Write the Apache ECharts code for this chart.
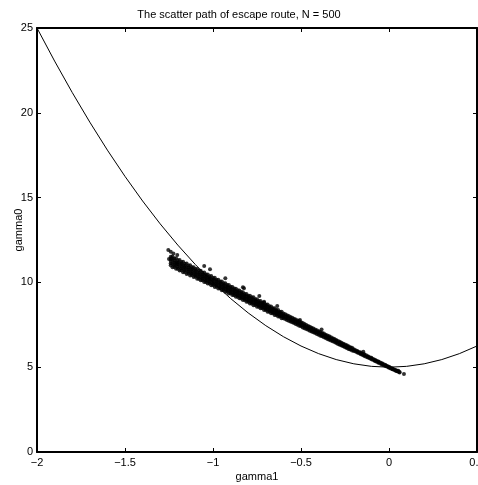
<!DOCTYPE html>
<html>
<head>
<meta charset="utf-8">
<script src="https://cdn.jsdelivr.net/npm/echarts@6/dist/echarts.min.js"></script>
<style>
html,body{margin:0;padding:0;background:#fff;}
#chart{width:478px;height:485px;}
</style>
</head>
<body>
<div id="chart"></div>
<script>
var titleText = 'The scatter path of escape route, N = 500';
var xName = 'gamma1';
var yName = 'gamma0';
var xTicks = [-2, -1.5, -1, -0.5, 0, 0.5];
var yTicks = [0, 5, 10, 15, 20, 25];

// reference curve
var curveGamma1 = [-2.0,-1.9,-1.8,-1.7,-1.6,-1.5,-1.4,-1.3,-1.2,-1.1,-1.0,-0.9,-0.8,-0.7,-0.6,-0.5,-0.4,-0.3,-0.2,-0.1,0.0,0.1,0.2,0.3,0.4,0.5];
var curveGamma0 = [25.0,23.05,21.2,19.45,17.8,16.25,14.8,13.45,12.2,11.05,10.0,9.05,8.2,7.45,6.8,6.25,5.8,5.45,5.2,5.05,5.0,5.05,5.2,5.45,5.8,6.25];

// dense band of scatter points: gamma1 positions and the gamma0 values seen at each
var bandGamma1 = [-1.24,-1.22,-1.20,-1.18,-1.16,-1.14,-1.12,-1.10,-1.08,-1.06,-1.04,-1.02,-1.00,-0.98,-0.96,-0.94,-0.92,-0.90,-0.88,-0.86,-0.84,-0.82,-0.80,-0.78,-0.76,-0.74,-0.72,-0.70,-0.68,-0.66,-0.64,-0.62,
  -0.60,-0.58,-0.56,-0.54,-0.52,-0.50,-0.48,-0.46,-0.44,-0.42,-0.40,-0.38,-0.36,-0.34,-0.32,-0.30,-0.28,-0.26,-0.24,-0.22,
  -0.20,-0.18,-0.16,-0.14,-0.12,-0.10,-0.08,-0.06,-0.04,-0.02,0.00,0.02,0.04,0.06];
var bandGamma0 = [
  [11.51,11.38,11.26,11.13,11.01],[11.41,11.28,11.16,11.03,10.91],[11.31,11.18,11.06,10.93,10.81],[11.21,11.08,10.96,10.83,10.71],
  [11.10,10.97,10.86,10.73,10.62],[11.00,10.87,10.76,10.63,10.52],[10.89,10.77,10.66,10.54,10.43],[10.79,10.67,10.56,10.44,10.33],
  [10.68,10.56,10.45,10.33,10.22],[10.57,10.45,10.35,10.23,10.13],[10.47,10.35,10.25,10.13,10.03],[10.36,10.25,10.15,10.04,9.94],
  [10.26,10.15,10.05,9.94,9.84],[10.16,10.05,9.95,9.84,9.74],[10.05,9.95,9.85,9.74,9.65],[9.95,9.85,9.75,9.64,9.55],
  [9.85,9.74,9.65,9.55,9.45],[9.75,9.64,9.55,9.45,9.35],[9.64,9.53,9.44,9.34,9.24],[9.53,9.43,9.34,9.24,9.15],
  [9.43,9.33,9.24,9.14,9.05],[9.32,9.22,9.14,9.05,8.96],[9.22,9.12,9.04,8.95,8.86],[9.12,9.02,8.94,8.85,8.76],
  [9.01,8.92,8.84,8.75,8.67],[8.91,8.82,8.74,8.65,8.57],[8.80,8.72,8.64,8.55,8.48],[8.70,8.62,8.54,8.45,8.38],
  [8.59,8.51,8.43,8.34,8.27],[8.48,8.40,8.33,8.25,8.18],[8.38,8.30,8.23,8.15,8.08],[8.27,8.20,8.13,8.05,7.99],
  [8.17,8.07,7.98,7.89],[8.07,7.97,7.88,7.79],[7.96,7.87,7.78,7.70],[7.86,7.77,7.68,7.60],[7.75,7.67,7.59,7.51],
  [7.65,7.57,7.49,7.41],[7.54,7.46,7.38,7.30],[7.43,7.36,7.28,7.21],[7.33,7.26,7.18,7.11],[7.22,7.15,7.08,7.02],
  [7.12,7.05,6.98,6.92],[7.02,6.95,6.88,6.82],[6.92,6.85,6.78,6.72],[6.82,6.75,6.68,6.62],[6.71,6.65,6.59,6.53],
  [6.61,6.55,6.49,6.43],[6.50,6.44,6.38,6.32],[6.39,6.34,6.28,6.23],[6.29,6.24,6.18,6.13],[6.18,6.13,6.08,6.04],
  [6.06,6.01,5.96],[5.96,5.91,5.86],[5.86,5.81,5.76],[5.76,5.71,5.66],[5.65,5.61,5.57],[5.55,5.51,5.47],
  [5.44,5.40,5.36],[5.34,5.30,5.26],[5.24,5.20,5.16],[5.13,5.10,5.07],[5.03,5.00,4.97],[4.92,4.90,4.88],
  [4.82,4.80,4.78],[4.71,4.69]
];
// in-between columns of the band
var midGamma1 = [-1.23,-1.21,-1.19,-1.17,-1.15,-1.13,-1.11,-1.09,-1.07,-1.05,-1.03,-1.01,-0.99,-0.97,-0.95,-0.93,-0.91,-0.89,-0.87,-0.85,-0.83,-0.81,-0.79,-0.77,-0.75,-0.73,-0.71,-0.69,-0.67,-0.65,-0.63,-0.61,
  -0.59,-0.57,-0.55,-0.53,-0.51,-0.49,-0.47,-0.45,-0.43,-0.41,-0.39,-0.37,-0.35,-0.33,-0.31,-0.29,-0.27,-0.25,-0.23,-0.21,
  -0.19,-0.17,-0.15,-0.13,-0.11,-0.09,-0.07,-0.05,-0.03,-0.01,0.01,0.03,0.05];
var midGamma0 = [
  [11.53,11.32,11.10,10.89],[11.42,11.21,11.01,10.80],[11.32,11.11,10.91,10.70],[11.22,11.01,10.81,10.60],
  [11.12,10.91,10.71,10.50],[11.01,10.81,10.61,10.41],[10.90,10.71,10.51,10.32],[10.79,10.60,10.40,10.21],
  [10.68,10.49,10.31,10.12],[10.58,10.39,10.21,10.02],[10.47,10.29,10.11,9.93],[10.37,10.19,10.01,9.83],
  [10.27,10.09,9.91,9.73],[10.16,9.99,9.81,9.64],[10.06,9.89,9.71,9.54],[9.95,9.78,9.62,9.45],
  [9.85,9.68,9.52,9.35],[9.73,9.57,9.41,9.25],[9.63,9.47,9.31,9.15],[9.52,9.37,9.21,9.06],
  [9.42,9.27,9.11,8.96],[9.32,9.17,9.01,8.86],[9.22,9.07,8.91,8.76],[9.12,8.97,8.81,8.66],
  [9.01,8.86,8.72,8.57],[8.91,8.76,8.62,8.47],[8.80,8.66,8.52,8.38],[8.69,8.55,8.41,8.27],
  [8.58,8.45,8.31,8.18],[8.48,8.35,8.21,8.08],[8.37,8.24,8.12,7.99],[8.27,8.14,8.02,7.89],
  [8.12,7.98,7.84],[8.02,7.88,7.74],[7.91,7.78,7.65],[7.81,7.68,7.55],[7.71,7.58,7.45],[7.60,7.47,7.34],
  [7.49,7.37,7.25],[7.39,7.27,7.15],[7.28,7.17,7.06],[7.18,7.07,6.96],[7.08,6.97,6.86],[6.98,6.87,6.76],
  [6.87,6.77,6.67],[6.77,6.67,6.57],[6.66,6.57,6.48],[6.55,6.46,6.37],[6.44,6.36,6.28],[6.34,6.26,6.18],
  [6.24,6.16,6.08],[6.14,6.06,5.98],
  [6.00,5.92],[5.90,5.82],[5.80,5.72],[5.70,5.62],[5.59,5.53],[5.48,5.42],[5.38,5.32],[5.28,5.22],
  [5.18,5.12],[5.07,5.03],[4.97,4.93],[4.87,4.83],[4.76,4.74]
];
// stray points
var strayGamma1 = [-1.254,-1.24,-1.225,-1.203,-1.235,-1.25,-1.206,-1.05,-1.017,-0.93,-0.83,-0.824,-0.737,-0.71,-0.635,-0.506,-0.383,-0.146,0.053,0.085];
var strayGamma0 = [11.91,11.80,11.70,11.62,11.42,11.38,11.12,10.97,10.77,10.24,9.71,9.65,9.20,8.86,8.61,7.78,7.23,5.91,4.79,4.60];

var scatterData = [];
bandGamma1.forEach(function (x, i) {
  bandGamma0[i].forEach(function (y) { scatterData.push([x, y]); });
});
midGamma1.forEach(function (x, i) {
  midGamma0[i].forEach(function (y) { scatterData.push([x, y]); });
});
strayGamma1.forEach(function (x, i) { scatterData.push([x, strayGamma0[i]]); });

var curveData = curveGamma1.map(function (x, i) { return [x, curveGamma0[i]]; });

var fontFam = 'Liberation Sans, Arial, Helvetica, sans-serif';
function fmt(v) { return String(v).replace('-', '\u2212'); }
var lineStyle = { color: '#000', width: 2 };

var chart = echarts.init(document.getElementById('chart'), null, { renderer: 'canvas' });
chart.setOption({
  animation: false,
  backgroundColor: '#fff',
  title: {
    text: titleText, left: 'center', top: 9, padding: 0,
    textStyle: { fontFamily: fontFam, fontSize: 11, fontWeight: 'normal', color: '#000' }
  },
  grid: { left: 37, right: 1, top: 28, bottom: 33, containLabel: false, outerBoundsMode: 'none' },
  xAxis: [{
    type: 'value', min: xTicks[0], max: xTicks[xTicks.length - 1], interval: 0.5, position: 'bottom',
    name: xName, nameLocation: 'middle', nameGap: 19, nameMoveOverlap: false,
    nameTextStyle: { fontFamily: fontFam, fontSize: 11, color: '#000' },
    axisLine: { show: true, onZero: false, lineStyle: lineStyle },
    axisTick: { show: true, inside: true, length: 4, lineStyle: { color: '#000', width: 1 } },
    axisLabel: { fontFamily: fontFam, fontSize: 11, color: '#000', margin: 5, formatter: fmt },
    splitLine: { show: false }
  }, {
    type: 'value', min: xTicks[0], max: xTicks[xTicks.length - 1], interval: 0.5, position: 'top',
    axisLine: { show: true, onZero: false, lineStyle: lineStyle },
    axisTick: { show: true, inside: true, length: 4, lineStyle: { color: '#000', width: 1 } },
    axisLabel: { show: false }, splitLine: { show: false }
  }],
  yAxis: [{
    type: 'value', min: yTicks[0], max: yTicks[yTicks.length - 1], interval: 5, position: 'left',
    name: yName, nameLocation: 'middle', nameGap: 13, nameRotate: 90, nameMoveOverlap: false,
    nameTextStyle: { fontFamily: fontFam, fontSize: 11, color: '#000', padding: [0, 0, 0, 20] },
    axisLine: { show: true, onZero: false, lineStyle: lineStyle },
    axisTick: { show: true, inside: true, length: 4, lineStyle: { color: '#000', width: 1 } },
    axisLabel: { fontFamily: fontFam, fontSize: 11, color: '#000', margin: 4, formatter: fmt },
    splitLine: { show: false }
  }, {
    type: 'value', min: yTicks[0], max: yTicks[yTicks.length - 1], interval: 5, position: 'right',
    axisLine: { show: true, onZero: false, lineStyle: lineStyle },
    axisTick: { show: true, inside: true, length: 4, lineStyle: { color: '#000', width: 1 } },
    axisLabel: { show: false }, splitLine: { show: false }
  }],
  series: [{
    type: 'line', data: curveData, xAxisIndex: 0, yAxisIndex: 0,
    showSymbol: false, symbol: 'none', smooth: false,
    lineStyle: { color: '#000', width: 1 }, z: 2, silent: true
  }, {
    type: 'scatter', data: scatterData, xAxisIndex: 0, yAxisIndex: 0,
    symbol: 'circle', symbolSize: 4,
    itemStyle: { color: '#000' }, z: 3, silent: true
  }]
});
</script>
</body>
</html>
